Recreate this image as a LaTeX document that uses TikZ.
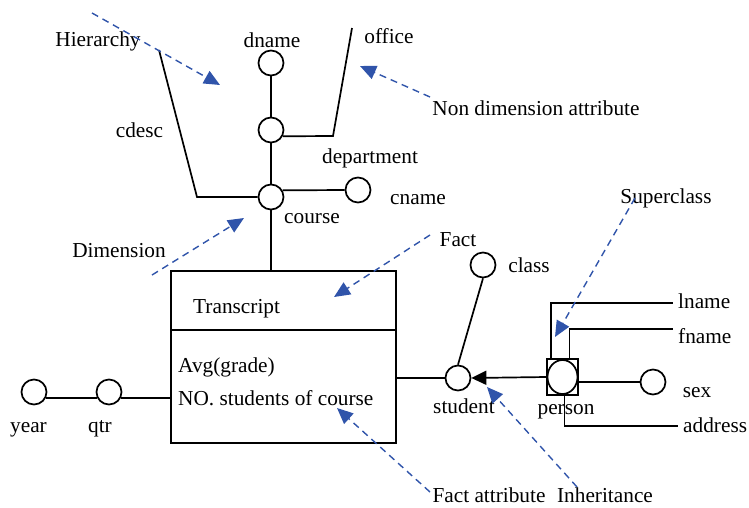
\documentclass[tikz,border=0pt]{standalone}
\usepackage{fontspec}
\setmainfont{Liberation Serif}
\usetikzlibrary{arrows.meta,shapes.geometric}

\definecolor{noteblue}{RGB}{48,84,170}

\tikzset{
  attr/.style={circle, draw, line width=1.7pt, minimum size=25pt, inner sep=0pt},
  link/.style={line width=1.7pt},
  lbl/.style={inner sep=0pt, anchor=base, font=\fontsize{21.3}{25}\selectfont},
  lblw/.style={lbl, anchor=base west},
  note/.style={draw=noteblue, line width=1.4pt, dash pattern=on 7pt off 5pt,
    -{Triangle[length=16pt,width=14pt,fill=noteblue,color=noteblue]}},
}

\begin{document}
\begin{tikzpicture}[x=1pt, y=-1pt]
\useasboundingbox (0,0) rectangle (749,507);

% ---- course dimension hierarchy ----
\node[attr] (dname)  at (271,63)  {};
\node[attr] (dept)   at (271,130) {};
\node[attr] (course) at (271,197) {};
\node[attr] (cname)  at (358,190) {};
\coordinate (officeTop) at (352,28);
\coordinate (officeBend) at (333,136);
\coordinate (cdescTop) at (159,50);
\coordinate (cdescBend) at (197,197);

% ---- fact table ----
\node[draw, line width=1.7pt, minimum width=225pt, minimum height=172pt, inner sep=0pt]
  (transcript) at (283.5,357) {};
\draw[link] ([yshift=-60pt]transcript.north west) -- ([yshift=-60pt]transcript.north east);

% ---- time dimension ----
\node[attr] (year) at (34,392)  {};
\node[attr] (qtr)  at (109,392) {};

% ---- student / person ----
\node[attr] (student) at (458,378) {};
\node[attr] (class)   at (483,265) {};
\node[draw, line width=1.7pt, minimum width=31pt, minimum height=36pt, inner sep=0pt]
  (personbox) at (562.5,377) {};
\node[ellipse, draw, line width=1.7pt, minimum width=30pt, minimum height=34pt, inner sep=0pt]
  (person) at (562.5,377) {};
\node[attr] (sex) at (653,382) {};
\coordinate (lnameEnd) at (673,303);
\coordinate (fnameEnd) at (673,329);
\coordinate (addrEnd)  at (678,426);

% ---- connectors ----
\draw[link] (dname) -- (dept);
\draw[link] (dept) -- (course);
\draw[link] (course.south) -- (course.south |- transcript.north);
\draw[link] (dept.-28) -- (officeBend) -- (officeTop);
\draw[link] (course.30) -- (cname.west);
\draw[link] (course.west) -- (cdescBend) -- (cdescTop);
\draw[link] (year.-28) -- (qtr.208);
\draw[link] (qtr.-28) -- (transcript.west |- qtr.-28);
\draw[link] (transcript.east |- student.west) -- (student.west);
\draw[link] (student.north) -- (class.south);
\draw[link, -{Triangle[length=15pt,width=14pt]}] (personbox.west) -- (student.east);
\draw[link] ([xshift=5pt]personbox.north west) |- (lnameEnd);
\draw[link] ([xshift=-9.5pt]personbox.north east) |- (fnameEnd);
\draw[link] (personbox.east |- sex.west) -- (sex.west);
\draw[link] ([xshift=2pt]person.south) |- (addrEnd);

% ---- labels ----
\node[lbl] (tDname)  at (272,47)  {dname};
\node[lbl] (tOffice) at (389,43)  {office};
\node[lbl] (tHier)   at (98,46)   {Hierarchy};
\node[lbl] (tCdesc)  at (139.5,137) {cdesc};
\node[lbl] (tDept)   at (370,163) {department};
\node[lbl] (tCname)  at (418,204) {cname};
\node[lbl] (tCourse) at (312,223) {course};
\node[lbl] (tDim)    at (119,257) {Dimension};
\node[lbl] (tNon)    at (536,115) {Non dimension attribute};
\node[lbl] (tFact)   at (458,246) {Fact};
\node[lbl] (tClass)  at (529,272) {class};
\node[lbl] (tSuper)  at (666,203) {Superclass};
\node[lblw] (tLname) at (678,308) {lname};
\node[lblw] (tFname) at (678,343) {fname};
\node[lbl] (tSex)    at (697,397) {sex};
\node[lblw] (tAddr)  at (683,432) {address};
\node[lbl] (tStudent) at (464,413) {student};
\node[lbl] (tPerson) at (566,414) {person};
\node[lblw] (tTrans) at (193,313) {Transcript};
\node[lblw] (tAvg)   at (178,372) {Avg(grade)};
\node[lblw] (tNo)    at (178,405) {NO. students of course};
\node[lbl] (tYear)   at (28.5,432) {year};
\node[lbl] (tQtr)    at (100,432) {qtr};
\node[lbl] (tFattr)  at (489,502) {Fact attribute};
\node[lbl] (tInh)    at (605,502) {Inheritance};

% ---- annotation arrows ----
\coordinate (hS) at (92,13);   \coordinate (hE) at (220,85);
\coordinate (nS) at (430,97);  \coordinate (nE) at (360,66);
\coordinate (dS) at (152,275); \coordinate (dE) at (244,218);
\coordinate (fS) at (430,235); \coordinate (fE) at (334,297);
\coordinate (sS) at (635,198); \coordinate (sE) at (555,337);
\coordinate (iS) at (577,487); \coordinate (iE) at (487,387);
\coordinate (aS) at (430,492); \coordinate (aE) at (337,408);
\draw[note] (hS) -- (hE);
\draw[note] (nS) -- (nE);
\draw[note] (dS) -- (dE);
\draw[note] (fS) -- (fE);
\draw[note] (sS) -- (sE);
\draw[note] (iS) -- (iE);
\draw[note] (aS) -- (aE);
\end{tikzpicture}
\end{document}
